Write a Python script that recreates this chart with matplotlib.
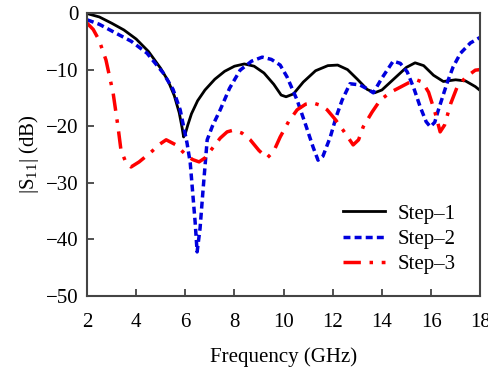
import matplotlib
matplotlib.use("Agg")
import matplotlib.pyplot as plt

plt.rcParams['font.family'] = ['Liberation Serif', 'DejaVu Serif']
plt.rcParams['mathtext.default'] = 'regular'

f1 = [2.0, 2.5, 3.0, 3.5, 4.0, 4.5, 5.0, 5.3, 5.55, 5.75, 5.87, 5.93, 6.0, 6.1, 6.25, 6.5, 6.8,
      7.2, 7.6, 8.0, 8.4, 8.8, 9.2, 9.6, 9.9, 10.1, 10.4, 10.8, 11.3, 11.8, 12.2, 12.6, 13.0, 13.4,
      13.7, 14.0, 14.5, 15.0, 15.35, 15.7, 16.1, 16.5, 17.0, 17.4, 17.8, 18.0]
s1 = [-0.1, -0.7, -1.8, -3.0, -4.6, -6.8, -9.8, -12.0, -14.6, -17.6, -20.3, -21.9, -21.3, -19.8,
      -17.8, -15.5, -13.6, -11.7, -10.3, -9.4, -9.0, -9.4, -10.6, -12.6, -14.5, -14.8, -14.3,
      -12.2, -10.2, -9.3, -9.2, -10.0, -11.7, -13.5, -14.1, -13.6, -11.6, -9.6, -8.8, -9.3,
      -11.0, -12.1, -11.8, -12.0, -13.0, -13.7]

f2 = [2.0, 2.5, 3.06, 3.8, 4.44, 5.1, 5.5, 5.79, 6.07, 6.2, 6.4, 6.48, 6.6, 6.72, 6.89, 7.1, 7.42,
      7.8, 8.23, 8.7, 9.13, 9.5, 9.86, 10.14, 10.55, 10.9, 11.2, 11.4, 11.6, 11.9, 12.15, 12.38,
      12.7, 13.1, 13.4, 13.65, 14.0, 14.46, 14.75, 15.03, 15.3, 15.56, 15.8, 15.97, 16.15, 16.3,
      16.65, 16.9, 17.2, 17.6, 18.0]
s2 = [-1.2, -2.0, -3.3, -5.0, -7.1, -10.6, -13.5, -17.1, -23.0, -26.5, -37.0, -42.2, -38.0,
      -31.3, -22.4, -20.0, -17.1, -13.3, -10.1, -8.5, -7.8, -8.2, -9.2, -11.3, -15.4, -19.8,
      -23.7, -26.0, -25.3, -21.9, -18.2, -15.4, -12.5, -12.7, -13.4, -14.1, -11.5, -8.5, -8.9,
      -10.4, -13.3, -16.6, -19.2, -20.1, -19.3, -17.1, -12.4, -9.5, -7.1, -5.3, -4.3]

f3 = [2.0, 2.25, 2.49, 2.77, 3.06, 3.26, 3.38, 3.59, 3.79, 4.12, 4.6, 4.95, 5.22, 5.62, 6.03,
      6.3, 6.56, 6.8, 7.1, 7.42, 7.7, 7.95, 8.3, 8.64, 9.0, 9.33, 9.6, 9.86, 10.2, 10.55, 10.9,
      11.2, 11.5, 11.77, 12.1, 12.42, 12.83, 13.05, 13.24, 13.6, 13.93, 14.35, 14.75, 15.1, 15.4,
      15.65, 15.9, 16.17, 16.37, 16.55, 16.8, 17.06, 17.4, 17.8, 18.0]
s3 = [-1.8, -2.9, -4.8, -8.3, -14.1, -20.1, -24.2, -26.5, -27.2, -26.3, -24.6, -23.2, -22.4,
      -23.3, -25.1, -25.9, -26.3, -25.6, -23.9, -22.1, -21.0, -20.7, -21.2, -22.4, -24.3, -25.6,
      -24.4, -21.9, -19.2, -17.1, -16.1, -15.9, -16.3, -17.1, -18.8, -20.7, -23.3, -22.4, -20.1,
      -17.5, -15.4, -14.0, -13.1, -12.3, -11.8, -12.2, -14.0, -17.7, -21.0, -19.8, -16.0, -13.1,
      -11.4, -10.1, -10.0]

labels = ['Step\u20131', 'Step\u20132', 'Step\u20133']
xticks = [2, 4, 6, 8, 10, 12, 14, 16, 18]
yticks = [0, -10, -20, -30, -40, -50]

fig = plt.figure(figsize=(4.89, 3.71), dpi=100)
ax = fig.add_axes([0.178, 0.202, 0.804, 0.763])

ax.plot(f1, s1, color='black', lw=2.0, ls='-', label=labels[0])
ax.plot(f2, s2, color='#0000dd', lw=2.5, ls=(0, (2.0, 1.2)), label=labels[1])
ax.plot(f3, s3, color='red', lw=2.5, ls=(0, (5, 2.5, 1, 2.5)), label=labels[2])

ax.set_xlim(2, 18)
ax.set_ylim(-50, 0)
ax.set_xticks(xticks)
ax.set_yticks(yticks)
ax.set_yticklabels([str(v).replace('-', '\u2212') for v in yticks])
ax.tick_params(direction='in', length=5, width=1.2, labelsize=15, top=False, right=False,
               color='#333333')
ax.tick_params(axis='x', pad=12)
ax.tick_params(axis='y', pad=6)
for sp in ax.spines.values():
    sp.set_color('#444444')
    sp.set_linewidth(1.5)

ax.set_xlabel('Frequency (GHz)', fontsize=15, labelpad=11)
ax.set_ylabel('|S$_{11}$| (dB)', fontsize=15, labelpad=4)

leg = ax.legend(loc='lower right', frameon=False, fontsize=15, handlelength=2.0,
                labelspacing=0.28, borderaxespad=0.3, handletextpad=0.6,
                bbox_to_anchor=(0.975, 0.025))

fig.savefig('out.png', dpi=100)
